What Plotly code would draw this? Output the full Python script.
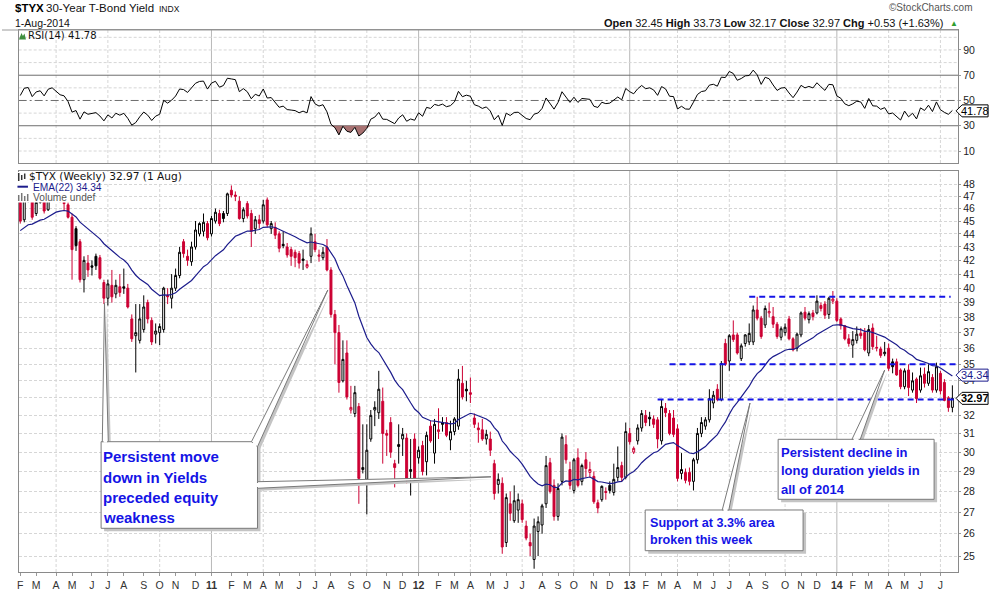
import math
import numpy as np
import pandas as pd
import plotly.graph_objects as go

# ---------------- data ----------------
FIRST_WEEK = "2010-02-01"          # Monday of the first weekly bar

OPEN = [
    46.5, 45.1, 46.9, 46.9, 45.6, 46.5, 46.6, 45.9, 47.5, 48.0,
    47.2, 46.5, 46.3, 45.3, 44.4, 43.4, 40.6, 41.8, 41.6, 42.3,
    42.2, 40.4, 39.3, 40.2, 39.6, 40.1, 40.1, 40.0, 37.9, 36.8,
    36.5, 37.2, 39.0, 37.8, 36.9, 37.0, 37.2, 39.5, 39.3, 40.0,
    40.9, 43.4, 42.3, 41.9, 43.0, 44.0, 44.2, 44.8, 44.0, 45.0,
    45.6, 45.6, 45.6, 47.5, 47.1, 46.6, 45.2, 46.4, 45.6, 44.4,
    45.1, 45.0, 46.7, 44.4, 44.5, 44.0, 43.2, 43.0, 42.8, 42.6,
    42.5, 42.1, 41.5, 42.3, 43.4, 42.3, 42.2, 43.0, 41.3, 38.2,
    37.0, 34.0, 35.7, 32.3, 32.1, 32.5, 29.1, 28.6, 30.7, 32.3,
    32.15, 32.8, 31.0, 31.6, 29.4, 30.4, 30.7, 30.75, 29.0, 30.7,
    29.7, 30.35, 29.5, 31.4, 29.95, 31.1, 31.6, 31.6, 30.65, 31.1,
    31.4, 33.85, 33.5, 33.3, 31.85, 31.3, 31.2, 30.7, 30.7, 29.4,
    28.35, 28.4, 25.6, 27.4, 26.6, 27.1, 27.4, 26.35, 25.6, 24.85,
    26.1, 26.4, 27.4, 29.45, 28.3, 26.8, 28.5, 30.4, 29.1, 28.05,
    29.7, 28.5, 29.6, 28.95, 28.75, 27.45, 27.6, 28.0, 28.3, 27.95,
    28.7, 29.3, 28.7, 31.0, 30.0, 30.6, 31.3, 32.0, 31.9, 31.8,
    31.75, 30.6, 32.4, 32.1, 31.85, 31.25, 28.9, 28.95, 28.95, 28.5,
    29.6, 31.0, 31.4, 31.75, 32.7, 33.5, 32.9, 36.3, 35.2, 36.85,
    36.85, 35.35, 36.3, 36.4, 36.4, 38.5, 37.95, 37.5, 38.3, 38.05,
    37.55, 36.7, 37.0, 37.9, 36.6, 36.0, 36.85, 38.35, 37.85, 38.3,
    38.3, 38.8, 38.9, 38.2, 39.1, 39.1, 37.9, 37.45, 36.6, 36.2,
    36.5, 36.95, 37.0, 35.7, 37.3, 36.0, 35.95, 35.65, 36.0, 35.15,
    35.15, 34.65, 33.65, 34.65, 33.45, 34.1, 33.45, 34.4, 33.85, 34.2,
    33.45, 34.45, 33.9, 33.0, 32.45,
]
HIGH = [
    46.8, 47.0, 47.3, 47.1, 46.6, 47.1, 46.9, 47.7, 48.0, 48.6,
    47.6, 46.8, 46.5, 45.6, 44.6, 43.6, 42.3, 42.4, 42.0, 42.5,
    42.4, 40.6, 40.6, 41.3, 40.6, 41.0, 41.4, 40.3, 38.2, 38.9,
    38.9, 39.5, 39.2, 38.0, 37.6, 37.6, 40.1, 40.0, 41.0, 41.4,
    43.0, 43.6, 42.8, 43.4, 45.0, 44.9, 45.6, 45.0, 45.4, 46.0,
    45.9, 45.8, 47.3, 47.9, 47.4, 47.0, 46.1, 46.6, 45.9, 45.4,
    45.5, 46.7, 46.9, 45.0, 44.9, 44.2, 44.2, 43.3, 43.0, 42.8,
    42.7, 42.8, 42.0, 44.5, 44.0, 42.8, 43.0, 43.6, 41.5, 38.5,
    37.5, 36.5, 36.5, 33.7, 33.7, 32.7, 31.5, 31.5, 32.3, 32.8,
    34.6, 33.6, 31.2, 31.9, 29.6, 31.5, 31.3, 31.0, 30.7, 31.0,
    30.3, 30.6, 31.1, 31.7, 31.8, 32.4, 31.9, 31.9, 31.7, 31.9,
    34.7, 34.9, 34.0, 34.2, 32.1, 31.6, 31.8, 31.2, 31.1, 29.6,
    28.9, 28.7, 27.9, 28.0, 28.3, 27.9, 27.6, 26.6, 26.0, 26.7,
    26.8, 27.4, 29.8, 29.7, 28.6, 28.4, 31.0, 30.9, 29.5, 29.7,
    30.2, 29.4, 30.0, 29.5, 29.0, 27.6, 28.3, 28.2, 28.5, 29.4,
    30.3, 29.5, 31.6, 31.3, 30.3, 31.5, 32.3, 32.3, 32.2, 32.0,
    31.9, 32.9, 32.7, 32.3, 32.3, 31.5, 29.95, 29.15, 29.2, 29.7,
    31.3, 31.9, 31.9, 33.5, 33.4, 33.8, 35.2, 36.6, 36.9, 37.8,
    37.0, 36.3, 36.9, 37.6, 38.8, 39.4, 38.1, 38.8, 39.0, 38.7,
    37.7, 37.4, 37.6, 38.1, 36.7, 37.0, 38.4, 38.7, 38.4, 38.5,
    39.5, 39.0, 39.1, 39.4, 39.8, 39.3, 38.0, 37.5, 36.9, 37.1,
    37.4, 37.3, 37.3, 37.5, 37.6, 36.8, 36.1, 36.4, 36.3, 35.35,
    35.35, 34.75, 34.75, 35.0, 34.5, 34.2, 34.8, 34.8, 35.0, 34.4,
    35.1, 34.6, 34.1, 33.1, 33.73,
]
LOW = [
    44.8, 44.9, 46.5, 45.1, 45.4, 46.4, 45.6, 45.8, 47.2, 46.9,
    46.5, 45.8, 45.2, 40.6, 42.7, 40.4, 39.7, 40.8, 40.9, 41.3,
    40.6, 38.9, 38.8, 39.0, 39.3, 39.4, 39.6, 38.6, 36.4, 34.5,
    36.3, 37.0, 37.6, 36.2, 36.3, 36.2, 37.0, 38.9, 38.6, 39.8,
    40.7, 42.2, 41.6, 41.6, 42.8, 43.8, 43.8, 43.5, 43.8, 44.8,
    44.6, 44.9, 45.4, 46.9, 46.6, 45.1, 44.9, 45.2, 43.0, 44.0,
    44.4, 44.8, 44.5, 44.0, 43.6, 42.6, 42.9, 42.2, 41.6, 41.5,
    41.4, 41.3, 41.4, 41.8, 42.6, 41.9, 42.0, 41.2, 38.0, 35.0,
    33.3, 33.9, 32.9, 32.1, 31.9, 27.4, 28.9, 26.9, 30.55, 31.4,
    31.8, 29.4, 29.8, 29.7, 28.2, 29.4, 29.8, 28.4, 27.8, 28.5,
    29.4, 28.8, 28.8, 30.5, 29.4, 30.7, 31.1, 30.8, 30.1, 30.9,
    31.2, 32.9, 32.8, 32.7, 31.3, 30.5, 30.6, 30.4, 29.8, 27.6,
    27.9, 25.1, 25.4, 26.6, 26.5, 26.5, 26.5, 25.7, 25.0, 24.45,
    25.0, 26.0, 27.2, 27.9, 26.6, 26.6, 28.3, 29.4, 28.1, 27.9,
    28.2, 28.3, 28.7, 28.7, 27.4, 26.95, 27.5, 27.6, 27.9, 27.8,
    28.5, 28.5, 28.6, 30.4, 29.9, 30.4, 31.1, 31.4, 31.4, 31.3,
    30.2, 30.4, 31.9, 30.9, 30.8, 28.5, 28.6, 28.4, 28.3, 28.05,
    29.4, 30.8, 31.2, 31.6, 32.4, 32.8, 32.8, 34.9, 34.6, 36.4,
    35.6, 35.2, 36.1, 36.2, 36.2, 37.8, 36.6, 37.3, 38.0, 37.3,
    36.6, 36.5, 36.8, 36.5, 35.8, 35.8, 36.7, 37.8, 37.6, 37.8,
    38.2, 38.4, 37.9, 37.9, 38.9, 37.7, 37.2, 36.5, 36.1, 35.4,
    36.3, 36.6, 35.8, 35.5, 35.9, 35.8, 35.4, 35.5, 34.6, 34.45,
    34.3, 33.5, 33.5, 33.1, 33.3, 32.7, 33.3, 33.6, 33.7, 33.3,
    33.3, 33.2, 32.8, 32.2, 32.17,
]
CLOSE = [
    45.0, 46.9, 47.1, 45.3, 46.5, 46.8, 45.8, 47.5, 47.9, 47.2,
    46.6, 46.4, 45.3, 42.8, 43.1, 40.6, 42.0, 41.3, 41.5, 41.6,
    40.7, 39.3, 40.3, 39.4, 40.2, 39.7, 40.0, 38.7, 36.6, 37.0,
    37.9, 38.7, 37.9, 36.4, 37.1, 37.4, 40.0, 39.4, 40.0, 40.9,
    42.6, 42.5, 42.0, 43.0, 44.3, 44.8, 44.9, 43.7, 45.2, 45.7,
    44.8, 45.2, 47.2, 47.1, 47.0, 45.2, 45.9, 45.4, 44.2, 45.1,
    44.8, 46.3, 44.7, 44.8, 43.9, 42.9, 43.1, 42.4, 42.3, 42.2,
    41.8, 42.0, 41.7, 44.0, 42.8, 42.4, 42.6, 41.3, 38.2, 37.0,
    33.9, 35.3, 33.05, 32.45, 33.3, 28.65, 29.2, 30.1, 32.0, 32.45,
    33.5, 31.0, 30.9, 30.0, 29.2, 30.3, 30.95, 28.65, 29.1, 28.65,
    30.1, 29.0, 30.9, 30.6, 31.5, 31.2, 31.5, 30.9, 31.1, 31.8,
    34.1, 33.05, 33.4, 33.2, 31.5, 31.2, 30.7, 30.95, 30.1, 27.9,
    28.6, 25.4, 27.7, 26.95, 27.55, 27.6, 26.65, 25.8, 25.45, 26.35,
    26.55, 27.3, 29.3, 28.0, 26.8, 28.15, 30.8, 29.6, 28.3, 29.6,
    28.3, 29.3, 29.15, 29.1, 27.5, 27.2, 28.25, 27.95, 28.05, 28.6,
    29.2, 28.7, 31.1, 30.55, 30.2, 31.3, 32.1, 31.6, 31.8, 31.5,
    30.7, 32.5, 32.15, 31.0, 30.95, 28.65, 29.1, 28.55, 28.5, 29.6,
    31.0, 31.6, 31.75, 32.95, 33.15, 32.9, 35.05, 35.0, 36.8, 36.55,
    35.7, 36.15, 36.85, 36.95, 38.5, 37.95, 36.75, 38.6, 38.4, 37.55,
    36.75, 37.25, 37.35, 36.6, 35.9, 36.9, 38.3, 37.95, 38.25, 38.05,
    39.1, 38.6, 38.15, 39.3, 39.25, 37.8, 37.45, 36.6, 36.3, 36.55,
    36.9, 36.8, 35.9, 37.2, 36.1, 36.05, 35.55, 35.75, 34.75, 34.85,
    34.35, 33.65, 34.6, 33.6, 34.0, 32.95, 34.3, 33.85, 34.55, 33.45,
    34.85, 33.4, 32.85, 32.44, 32.97,
]

EMA_PERIOD = 22
EMA_START = 44.25            # EMA value read at the left edge
RSI_PERIOD = 14
RSI_SEED_GAIN = 0.55         # Wilder averages giving the RSI read at the left edge (~54)
RSI_SEED_LOSS = 0.47
EMA_LABEL = 34.34
RSI_LABEL = 41.78

LEVELS = [39.4, 35.0, 32.9]                       # dashed blue lines
LEVEL_START = ["2013-08-05", "2013-03-18", "2013-02-25"]
LEVEL_END = ["2014-07-25", "2014-08-07", "2014-08-07"]

PRICE_TICKS = list(range(25, 49))
PRICE_TICKS_HIDDEN = [33]     # covered by the close tag in the reference
RSI_TICKS = [10, 30, 50, 70, 90]
RSI_GRID = [10, 20, 40, 60, 80, 90, 100]

CALLOUT1 = ["Persistent move", "down in Yields", "preceded equity", "weakness"]
CALLOUT2 = ["Support at 3.3% area", "broken this week"]
CALLOUT3 = ["Persistent decline in", "long duration yields in", "all of 2014"]

assert len(OPEN) == len(HIGH) == len(LOW) == len(CLOSE)
n = len(CLOSE)
dates = pd.date_range(FIRST_WEEK, periods=n, freq="7D")

# ---------------- indicators ----------------
alpha = 2.0 / (EMA_PERIOD + 1)
ema = [EMA_START]
for c in CLOSE[1:]:
    ema.append(ema[-1] + alpha * (c - ema[-1]))

ag, al = RSI_SEED_GAIN, RSI_SEED_LOSS
rsi = [100 - 100 / (1 + ag / al)]
for i in range(1, n):
    d = CLOSE[i] - CLOSE[i - 1]
    ag = (ag * (RSI_PERIOD - 1) + max(d, 0)) / RSI_PERIOD
    al = (al * (RSI_PERIOD - 1) + max(-d, 0)) / RSI_PERIOD
    rsi.append(100 - 100 / (1 + ag / al))
rsi = np.array(rsi)

# ---------------- geometry helpers (pixels -> paper) ----------------
W, H = 990, 591
def fx(px): return px / W
def fy(py): return 1 - py / H

PL, PR = 16.7, 958.0
PRICE_TOP, PRICE_BOT = 171.0, 572.0
RSI_TOP, RSI_BOT = 30.0, 163.0
X_RANGE = ["2010-01-29 05:00", "2014-08-07"]
PRICE_RANGE = [math.log10(24.31), math.log10(49.13)]
RSI_RANGE = [0.5, 105.8]

RED = "#cc0033"
NAVY = "#1c1c8c"
BLUE = "#1414e6"
GRID = "#d6d6d6"
BORDER = "#8a8a8a"

fig = go.Figure()

# candles: colour family by change versus previous close
prev = np.array([np.inf] + CLOSE[:-1])
cl = np.array(CLOSE)
down = cl < prev
for mask, col in [(~down, "black"), (down, RED)]:
    idx = np.where(mask)[0]
    fig.add_trace(go.Candlestick(
        x=dates[idx],
        open=np.array(OPEN)[idx], high=np.array(HIGH)[idx],
        low=np.array(LOW)[idx], close=cl[idx],
        increasing=dict(line=dict(color=col, width=1), fillcolor="white"),
        decreasing=dict(line=dict(color=col, width=1), fillcolor=col),
        whiskerwidth=0, showlegend=False, hoverinfo="skip",
        xaxis="x", yaxis="y"))

fig.add_trace(go.Scatter(x=dates, y=ema, mode="lines",
                         line=dict(color=NAVY, width=1.2),
                         showlegend=False, hoverinfo="skip",
                         xaxis="x", yaxis="y"))

# RSI panel
fig.add_trace(go.Scatter(x=dates, y=np.full(n, 30.0), mode="lines",
                         line=dict(width=0, color="rgba(0,0,0,0)"),
                         showlegend=False, hoverinfo="skip",
                         xaxis="x2", yaxis="y2"))
fig.add_trace(go.Scatter(x=dates, y=np.minimum(rsi, 30.0), mode="lines",
                         line=dict(width=0, color="rgba(0,0,0,0)"),
                         fill="tonexty", fillcolor="#a87272",
                         showlegend=False, hoverinfo="skip",
                         xaxis="x2", yaxis="y2"))
fig.add_trace(go.Scatter(x=dates, y=rsi, mode="lines",
                         line=dict(color="black", width=1),
                         showlegend=False, hoverinfo="skip",
                         xaxis="x2", yaxis="y2"))

shapes = []
annotations = []

# vertical quarter grid lines (first bar of each quarter) and month ticks
prev_month = None
tickvals, ticktext = [], []
for d in dates:
    if d.month != prev_month:
        tickvals.append(d)
        ticktext.append(f"<b>{d.year % 100:02d}</b>" if d.month == 1 else "JFMAMJJASOND"[d.month - 1])
        if d.month in (1, 4, 7, 10):
            style = dict(color="#b8b8b8", width=1) if d.month == 1 else dict(color=GRID, width=1, dash="3px,2px")
            for (t, b) in [(PRICE_TOP, PRICE_BOT), (RSI_TOP, RSI_BOT)]:
                shapes.append(dict(type="line", xref="x", yref="paper",
                                   x0=d, x1=d, y0=fy(b), y1=fy(t),
                                   line=style, layer="below"))
    prev_month = d.month

# RSI horizontal lines
for lv in RSI_GRID:
    shapes.append(dict(type="line", xref="paper", yref="y2", x0=fx(PL), x1=fx(PR),
                       y0=lv, y1=lv, line=dict(color=GRID, width=1, dash="3px,2px"), layer="below"))
for lv in (30, 70):
    shapes.append(dict(type="line", xref="paper", yref="y2", x0=fx(PL), x1=fx(PR),
                       y0=lv, y1=lv, line=dict(color="#6e6e6e", width=1), layer="below"))
shapes.append(dict(type="line", xref="paper", yref="y2", x0=fx(PL), x1=fx(PR),
                   y0=50, y1=50, line=dict(color="#6e6e6e", width=1, dash="8px,3px,2px,3px"),
                   layer="below"))

# header separator
shapes.append(dict(type="line", xref="paper", yref="paper", x0=0, x1=fx(PR),
                   y0=fy(RSI_TOP), y1=fy(RSI_TOP), line=dict(color="#9a9a9a", width=1)))

# dashed blue support / resistance lines
for lv, s, e in zip(LEVELS, LEVEL_START, LEVEL_END):
    shapes.append(dict(type="line", xref="x", yref="y", x0=s, x1=e, y0=lv, y1=lv,
                       line=dict(color=BLUE, width=2, dash="6px,4px"), layer="above"))


def poly(pts, dx=0.0, dy=0.0):
    return "M " + " L ".join(f"{fx(x + dx):.5f},{fy(y + dy):.5f}" for x, y in pts) + " Z"


def callout(box, wedges):
    x0, y0, x1, y1 = box
    rect = [(x0, y0), (x1, y0), (x1, y1), (x0, y1)]
    for w in wedges:
        shapes.append(dict(type="path", xref="paper", yref="paper", path=poly(w, 2.5, 2.5),
                           fillcolor="#c4c4c4", line=dict(width=0), layer="above"))
    shapes.append(dict(type="path", xref="paper", yref="paper", path=poly(rect, 3, 3),
                       fillcolor="#c4c4c4", line=dict(width=0), layer="above"))
    shapes.append(dict(type="path", xref="paper", yref="paper", path=poly(rect),
                       fillcolor="white", line=dict(color="#7a7a7a", width=1), layer="above"))
    for w in wedges:
        shapes.append(dict(type="path", xref="paper", yref="paper", path=poly(w),
                           fillcolor="white", line=dict(color="#7a7a7a", width=1), layer="above"))
        (ax, ay), (bx, by) = w[0], w[2]
        shapes.append(dict(type="line", xref="paper", yref="paper",
                           x0=fx(ax + 0.2 * (bx - ax)), y0=fy(ay + 0.2 * (by - ay)),
                           x1=fx(ax + 0.8 * (bx - ax)), y1=fy(ay + 0.8 * (by - ay)),
                           line=dict(color="white", width=2), layer="above"))


callout((99.3, 441.7, 256.0, 528.3),
        [[(100.5, 441.7), (102.7, 303.0), (106.5, 441.7)],
         [(250.0, 441.7), (326.5, 290.0), (256.0, 446.7)],
         [(256.0, 481.7), (490.0, 476.8), (256.0, 488.3)]])
callout((644.5, 510.0, 802.7, 550.7),
        [[(721.7, 510.0), (749.5, 403.0), (728.3, 510.0)]])
callout((777.7, 439.3, 934.0, 499.3),
        [[(851.7, 439.3), (884.5, 370.0), (860.0, 439.3)]])

TXT = "Liberation Sans, Arial, sans-serif"
NARROW = "Liberation Sans Narrow, Arial Narrow, Liberation Sans, Arial, sans-serif"


def text(x, y, s, size, color="black", family=TXT, xanchor="left", **kw):
    annotations.append(dict(x=fx(x), y=fy(y), xref="paper", yref="paper", text=s,
                            showarrow=False, xanchor=xanchor, yanchor="middle",
                            font=dict(size=size, color=color, family=family), **kw))


for k, s in enumerate(CALLOUT1):
    text(99.5, 457.0 + 20.0 * k, f"<b>{s}</b>", 15, BLUE)
for k, s in enumerate(CALLOUT2):
    text(647.0, 522.7 + 17.5 * k, f"<b>{s}</b>", 12.6, BLUE)
for k, s in enumerate(CALLOUT3):
    text(779.0, 452.7 + 18.2 * k, f"<b>{s}</b>", 13, BLUE)

# header
text(11, 8.5, "<b>$TYX</b>", 11.5, "black", TXT)
text(42.5, 8.5, "30-Year T-Bond Yield", 11.5, "#111")
text(155, 9, "INDX", 8.5, "#111")
text(11, 23, "1-Aug-2014", 10.5, "#111")
text(975, 8, "©StockCharts.com", 10, "#555", xanchor="right")
chg = CLOSE[-1] - CLOSE[-2]
hdr = (f"<b>Open</b> {OPEN[-1]:.2f} <b>High</b> {HIGH[-1]:.2f} <b>Low</b> {LOW[-1]:.2f} "
       f"<b>Close</b> {CLOSE[-1]:.2f} <b>Chg</b> {chg:+.2f} ({100 * chg / CLOSE[-2]:+.2f}%)")
text(945, 23, hdr, 11, "#111", NARROW, xanchor="right")
text(948, 23, "▲", 8, "#2e9e2e")

# panel legends (white backing so candles behind them are hidden, as in the reference)
text(24.5, 36, f"RSI({RSI_PERIOD}) {RSI_LABEL:.2f}", 10, "#111", "DejaVu Sans, Verdana, sans-serif")
shapes.append(dict(type="path", xref="paper", yref="paper",
                   path=poly([(17, 39.5), (19.5, 33), (21, 36), (22.5, 33.5), (24, 39.5)]),
                   fillcolor="#3f8f3f", line=dict(width=0)))
for (a, b, t, bt) in [(15, 193, 172, 182), (15, 97, 182, 192), (15, 93, 192, 202.5)]:
    shapes.append(dict(type="rect", xref="paper", yref="paper", x0=fx(a), x1=fx(b),
                       y0=fy(bt), y1=fy(t), fillcolor="white", line=dict(width=0), layer="above"))
text(25, 176.3, f"$TYX (Weekly) {CLOSE[-1]:.2f} (1 Aug)", 10.6, "#111",
     "DejaVu Sans, Verdana, sans-serif")
text(29.5, 187.4, f"EMA({EMA_PERIOD}) {EMA_LABEL:.2f}", 10.2, NAVY, TXT)
text(29.5, 197.6, "Volume undef", 10.2, "#555", TXT)
shapes.append(dict(type="line", xref="paper", yref="paper", x0=fx(15.5), x1=fx(26),
                   y0=fy(186.7), y1=fy(186.7), line=dict(color=NAVY, width=2), layer="above"))
for (a, b, t, bt) in [(16, 17.5, 173, 181), (19, 20.5, 175, 180), (22, 23.5, 173.5, 179)]:
    shapes.append(dict(type="rect", xref="paper", yref="paper", x0=fx(a), x1=fx(b),
                       y0=fy(bt), y1=fy(t), fillcolor="#333", line=dict(width=0), layer="above"))
for (a, b, t) in [(16, 17.5, 195), (19, 20.5, 193), (22, 23.5, 196), (25, 26.5, 194)]:
    shapes.append(dict(type="rect", xref="paper", yref="paper", x0=fx(a), x1=fx(b),
                       y0=fy(201), y1=fy(t), fillcolor="#777", line=dict(width=0), layer="above"))


# value tags on the right
def tag(yref, value, label, color, bold=False):
    shapes.append(dict(type="path", xref="paper", yref=yref, xsizemode="pixel", ysizemode="pixel",
                       xanchor=fx(957.0), yanchor=value,
                       path="M -1,0 L 5,6 L 31,6 L 31,-6 L 5,-6 Z",
                       fillcolor="white", line=dict(color=color, width=1), layer="above"))
    yv = math.log10(value) if yref == "y" else value
    annotations.append(dict(x=fx(974.5), y=yv, xref="paper", yref=yref,
                            text=f"<b>{label}</b>" if bold else label, showarrow=False,
                            xanchor="center", yanchor="middle",
                            font=dict(size=11, color=color, family=TXT)))


tag("y", EMA_LABEL, f"{EMA_LABEL:.2f}", NAVY)
tag("y", CLOSE[-1], f"{CLOSE[-1]:.2f}", "black", bold=True)
tag("y2", RSI_LABEL, f"{RSI_LABEL:.2f}", "black")

axis_common = dict(showline=True, linecolor=BORDER, linewidth=1, mirror=True, zeroline=False)

fig.update_layout(
    width=W, height=H, margin=dict(l=0, r=0, t=0, b=0),
    paper_bgcolor="white", plot_bgcolor="white", showlegend=False,
    xaxis=dict(domain=[fx(PL), fx(PR)], anchor="y", type="date", range=X_RANGE,
               tickmode="array", tickvals=tickvals, ticktext=ticktext,
               ticks="outside", ticklen=3, tickcolor="#999",
               tickfont=dict(size=10.5, color="#333", family=NARROW),
               showgrid=False, rangeslider=dict(visible=False), **axis_common),
    xaxis2=dict(domain=[fx(PL), fx(PR)], anchor="y2", type="date", matches="x",
                showticklabels=False, ticks="", showgrid=False,
                rangeslider=dict(visible=False), **axis_common),
    yaxis=dict(domain=[fy(PRICE_BOT), fy(PRICE_TOP)], anchor="x", type="log",
               range=PRICE_RANGE, side="right", tickmode="array",
               tickvals=PRICE_TICKS,
               ticktext=["" if v in PRICE_TICKS_HIDDEN else str(v) for v in PRICE_TICKS],
               ticks="outside", ticklen=2, tickcolor="#999",
               tickfont=dict(size=10.5, color="#222", family=TXT),
               showgrid=True, gridcolor=GRID, griddash="3px,2px", gridwidth=1,
               **axis_common),
    yaxis2=dict(domain=[fy(RSI_BOT), fy(RSI_TOP)], anchor="x2", range=RSI_RANGE,
                side="right", tickmode="array", tickvals=RSI_TICKS,
                ticks="outside", ticklen=2, tickcolor="#999",
                tickfont=dict(size=10.5, color="#222", family=TXT),
                showgrid=False, **axis_common),
    shapes=shapes, annotations=annotations,
)

fig.write_html("out.html", config={"displayModeBar": False})
